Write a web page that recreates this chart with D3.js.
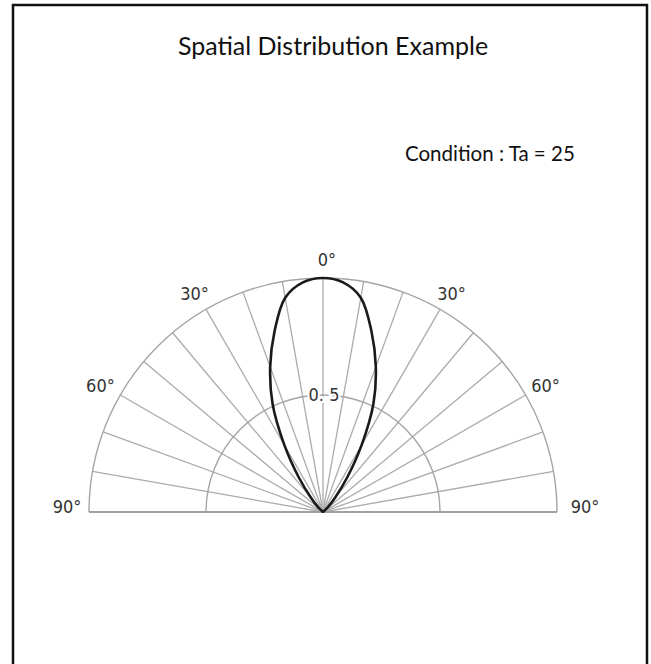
<!DOCTYPE html>
<html>
<head>
<meta charset="utf-8">
<script src="https://cdn.jsdelivr.net/npm/d3@7"></script>
<style>
  body { margin: 0; background: #fff; }
</style>
</head>
<body>
<script>
// relative intensity vs angle (deg)
var angles = [-90,-50,-45,-40,-35,-30,-25,-20,-15,-10,-5,0,5,10,15,20,25,30,35,40,45,50,90];
var intensity = [0,0,0.03,0.08,0.18,0.33,0.51,0.66,0.80,0.93,0.985,1,0.985,0.93,0.80,0.66,0.51,0.33,0.18,0.08,0.03,0,0];

var spokes = d3.range(-90, 91, 10);
var rings = [0.5, 1];
var angleLabels = [-90,-60,-30,0,30,60,90];

var cx = 323, cy = 512;
var degFont = "'DejaVu Sans Condensed', 'Liberation Sans Narrow', sans-serif";

var svg = d3.select("body").append("svg").attr("width",651).attr("height",664);

svg.append("path")
    .attr("d","M13,664 L13,5 L647,5 L647,664")
    .attr("fill","none")
    .attr("stroke","#111")
    .attr("stroke-width",2.5);

svg.append("text")
    .attr("x",333).attr("y",55)
    .attr("text-anchor","middle")
    .attr("font-family","Lato, 'Open Sans', sans-serif")
    .attr("font-size","25")
    .attr("fill","#111")
    .text("Spatial Distribution Example");

svg.append("text")
    .attr("x",405).attr("y",161)
    .attr("font-family","Lato, 'Open Sans', sans-serif")
    .attr("font-size","20.5")
    .attr("fill","#111")
    .text("Condition : Ta = 25");

var r = d3.scaleLinear().domain([0,1]).range([0,234]);
var a = d3.scaleLinear().domain([-90,90]).range([-Math.PI/2, Math.PI/2]);

var g = svg.append("g").attr("transform","translate("+cx+","+cy+")");

g.selectAll("line.spoke")
    .data(spokes)
    .enter().append("line")
        .attr("class","spoke")
        .attr("x1",0).attr("y1",0)
        .attr("x2",function(d){return r(1)*Math.sin(a(d));})
        .attr("y2",function(d){return -r(1)*Math.cos(a(d));})
        .attr("stroke","#ababab")
        .attr("stroke-width",1.3);

var arc = d3.arc().startAngle(a(-90)).endAngle(a(90));
g.selectAll("path.ring")
    .data(rings)
    .enter().append("path")
        .attr("class","ring")
        .attr("d",function(d){return arc({innerRadius:r(d),outerRadius:r(d)});})
        .attr("fill","none")
        .attr("stroke","#a5a5a5")
        .attr("stroke-width",1.4);

g.append("line")
    .attr("x1",-r(1)).attr("y1",0)
    .attr("x2",r(1)).attr("y2",0)
    .attr("stroke","#a0a0a0")
    .attr("stroke-width",2);

var lobe = d3.lineRadial()
    .angle(function(d,i){return a(angles[i]);})
    .radius(function(d){return r(d);})
    .curve(d3.curveCatmullRom);

g.append("path")
    .datum(intensity)
    .attr("d",lobe)
    .attr("fill","none")
    .attr("stroke","#1a1a1a")
    .attr("stroke-width",2.6);

g.append("text")
    .attr("x",1).attr("y",-r(0.5))
    .attr("dy","0.36em")
    .attr("text-anchor","middle")
    .attr("font-family",degFont)
    .attr("font-size","18")
    .attr("fill","#333")
    .attr("stroke","#fff")
    .attr("stroke-width",4)
    .attr("paint-order","stroke")
    .text("0. 5");

g.selectAll("text.deg")
    .data(angleLabels)
    .enter().append("text")
        .attr("class","deg")
        .attr("x",function(d){
            if (Math.abs(d)===90) return d>0 ? r(1)+28 : -r(1)-22;
            return (r(1)+23)*Math.sin(a(d)) + (d===0 ? 4 : 0);
        })
        .attr("y",function(d){
            if (Math.abs(d)===90) return -5;
            return -(r(1)+18)*Math.cos(a(d));
        })
        .attr("dy","0.36em")
        .attr("text-anchor","middle")
        .attr("font-family",degFont)
        .attr("font-size","18")
        .attr("fill","#333")
        .text(function(d){return Math.abs(d)+"°";});
</script>
</body>
</html>
